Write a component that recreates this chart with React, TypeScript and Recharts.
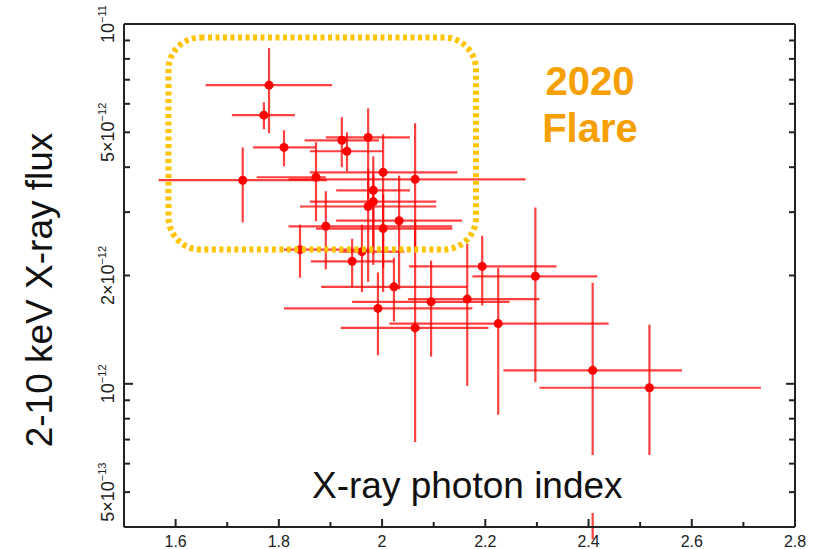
import { ScatterChart, Scatter, XAxis, YAxis, ErrorBar } from 'recharts';

// photon index with its error range
const photonIndex = [1.781, 1.771, 1.810, 1.730, 1.922, 1.973, 1.932, 2.002, 1.872, 2.064, 1.983, 1.983, 1.973, 2.033, 1.891, 2.002, 1.841, 1.961, 1.942, 2.023, 1.992, 2.064, 2.095, 2.165, 2.194, 2.297, 2.225, 2.408, 2.518];
const indexLow = [1.658, 1.709, 1.750, 1.567, 1.850, 1.891, 1.860, 1.860, 1.757, 1.819, 1.911, 1.860, 1.841, 1.911, 1.819, 1.872, 1.810, 1.917, 1.862, 1.882, 1.810, 1.920, 1.942, 2.050, 2.052, 2.175, 2.014, 2.235, 2.305];
const indexHigh = [1.903, 1.831, 1.872, 1.893, 1.994, 2.054, 2.002, 2.146, 1.891, 2.278, 2.054, 2.105, 2.105, 2.155, 2.136, 2.136, 1.975, 2.043, 2.023, 2.165, 2.175, 2.206, 2.247, 2.305, 2.338, 2.417, 2.439, 2.581, 2.734];

// 2-10 keV flux, units of 1e-12
const flux = [6.76, 5.58, 4.54, 3.68, 4.75, 4.84, 4.43, 3.87, 3.75, 3.70, 3.45, 3.21, 3.11, 2.84, 2.74, 2.70, 2.36, 2.33, 2.19, 1.86, 1.62, 1.43, 1.69, 1.72, 2.12, 1.99, 1.47, 1.09, 0.975];
const fluxLow = [4.97, 5.10, 4.02, 2.81, 4.00, 3.26, 3.90, 1.80, 2.83, 2.36, 2.14, 2.29, 1.92, 1.83, 2.08, 2.10, 1.97, 1.80, 1.86, 1.49, 1.20, 0.689, 1.19, 0.987, 1.65, 1.01, 0.82, 0.37, 0.60];
const fluxHigh = [8.57, 6.06, 5.07, 4.54, 5.51, 5.83, 5.00, 4.94, 4.69, 5.30, 4.29, 3.82, 3.94, 3.79, 3.43, 3.36, 2.77, 2.77, 2.53, 2.24, 2.04, 2.86, 2.20, 2.45, 2.58, 3.09, 2.10, 1.91, 1.46];

const xTicks = [1.6, 1.7, 1.8, 1.9, 2.0, 2.1, 2.2, 2.3, 2.4, 2.5, 2.6, 2.7, 2.8];
const xTickLabels = ['1.6', '', '1.8', '', '2', '', '2.2', '', '2.4', '', '2.6', '', '2.8'];

const yTicks = [0.5, 0.6, 0.7, 0.8, 0.9, 1, 2, 3, 4, 5, 6, 7, 8, 9, 10];
const yTickMantissa = ['5×10', '', '', '', '', '10', '2×10', '', '', '5×10', '', '', '', '', '10'];
const yTickExponent = ['−13', '', '', '', '', '−12', '−12', '', '', '−12', '', '', '', '', '−11'];
const yDecades = [1, 10];

const points = photonIndex.map((x, i) => ({
  x,
  y: flux[i],
  xErr: [x - indexLow[i], indexHigh[i] - x],
  yErr: [flux[i] - fluxLow[i], fluxHigh[i] - flux[i]],
}));

const FONT = '"Liberation Sans", Arial, sans-serif';
const AXIS = '#222';
const RED = '#ff0000';

function BottomTick({ x, y, index }: any) {
  const label = xTickLabels[index];
  return (
    <g>
      <line x1={x} x2={x} y1={y} y2={y - (label ? 8 : 5)} stroke={AXIS} strokeWidth={2} />
      {label && (
        <text x={x} y={y + 20} textAnchor="middle" fontSize={16} fontFamily={FONT} fill="#222">
          {label}
        </text>
      )}
    </g>
  );
}

function TopTick({ x, y, index }: any) {
  const major = !!xTickLabels[index];
  return <line x1={x} x2={x} y1={y} y2={y + (major ? 8 : 5)} stroke={AXIS} strokeWidth={2} />;
}

function LeftTick({ x, y, index, payload }: any) {
  const len = yDecades.includes(payload.value) ? 9 : 6;
  const m = yTickMantissa[index];
  return (
    <g>
      <line x1={x} x2={x + len} y1={y} y2={y} stroke={AXIS} strokeWidth={2} />
      {m && (
        <text
          transform={`translate(${x - 10.5}, ${y}) rotate(-90)`}
          textAnchor="middle"
          fontSize={18}
          fontFamily={FONT}
          fill="#222"
        >
          {m}
          <tspan dy={-8} fontSize={11}>{yTickExponent[index]}</tspan>
        </text>
      )}
    </g>
  );
}

function RightTick({ x, y, payload }: any) {
  const len = yDecades.includes(payload.value) ? 9 : 6;
  return <line x1={x} x2={x - len} y1={y} y2={y} stroke={AXIS} strokeWidth={2} />;
}

const dot = (p: any) => <circle cx={p.cx} cy={p.cy} r={4.5} fill={RED} />;

const axisCommon = {
  type: 'number' as const,
  allowDataOverflow: true,
  interval: 0 as const,
  tickSize: 0,
  tickMargin: 0,
  tickLine: false,
  axisLine: { stroke: AXIS, strokeWidth: 2 },
};

export default function App() {
  return (
    <div style={{ position: 'relative', width: 823, height: 549, background: '#fff' }}>
      <style>{'body{margin:0}'}</style>
      <ScatterChart width={823} height={549} margin={{ top: 0, right: 0, bottom: 0, left: 0 }}>
        <XAxis {...axisCommon} dataKey="x" domain={[1.5, 2.8]} ticks={xTicks} height={22} tick={<BottomTick />} />
        <XAxis {...axisCommon} xAxisId="top" orientation="top" domain={[1.5, 2.8]} ticks={xTicks} height={24} tick={<TopTick />} />
        <YAxis {...axisCommon} dataKey="y" scale="log" domain={[0.4, 10]} ticks={yTicks} width={124} tick={<LeftTick />} />
        <YAxis {...axisCommon} yAxisId="right" orientation="right" scale="log" domain={[0.4, 10]} ticks={yTicks} width={28} tick={<RightTick />} />
        <Scatter data={points} shape={dot} isAnimationActive={false}>
          <ErrorBar dataKey="xErr" direction="x" width={0} stroke={RED} strokeOpacity={0.75} strokeWidth={2.2} isAnimationActive={false} />
          <ErrorBar dataKey="yErr" direction="y" width={0} stroke={RED} strokeOpacity={0.75} strokeWidth={2.2} isAnimationActive={false} />
        </Scatter>
      </ScatterChart>

      <svg width={823} height={549} style={{ position: 'absolute', left: 0, top: 0, pointerEvents: 'none' }}>
        <rect x={168.5} y={37.5} width={307.5} height={212} rx={32} fill="none" stroke="#ffc400" strokeWidth={6} strokeDasharray="4 3.5" />
        <rect x={300} y={455} width={390} height={58} fill="#fff" />
        <text x={312} y={498} fontSize={37} fontFamily={FONT} fill="#111">X-ray photon index</text>
        <text transform="translate(52, 290) rotate(-90)" textAnchor="middle" fontSize={37} fontFamily={FONT} fill="#111">
          2-10 keV X-ray flux
        </text>
        <text x={590} y={95} textAnchor="middle" fontSize={40} fontWeight="bold" fontFamily={FONT} fill="#f6a000">2020</text>
        <text x={590} y={142} textAnchor="middle" fontSize={40} fontWeight="bold" fontFamily={FONT} fill="#f6a000">Flare</text>
      </svg>
    </div>
  );
}
